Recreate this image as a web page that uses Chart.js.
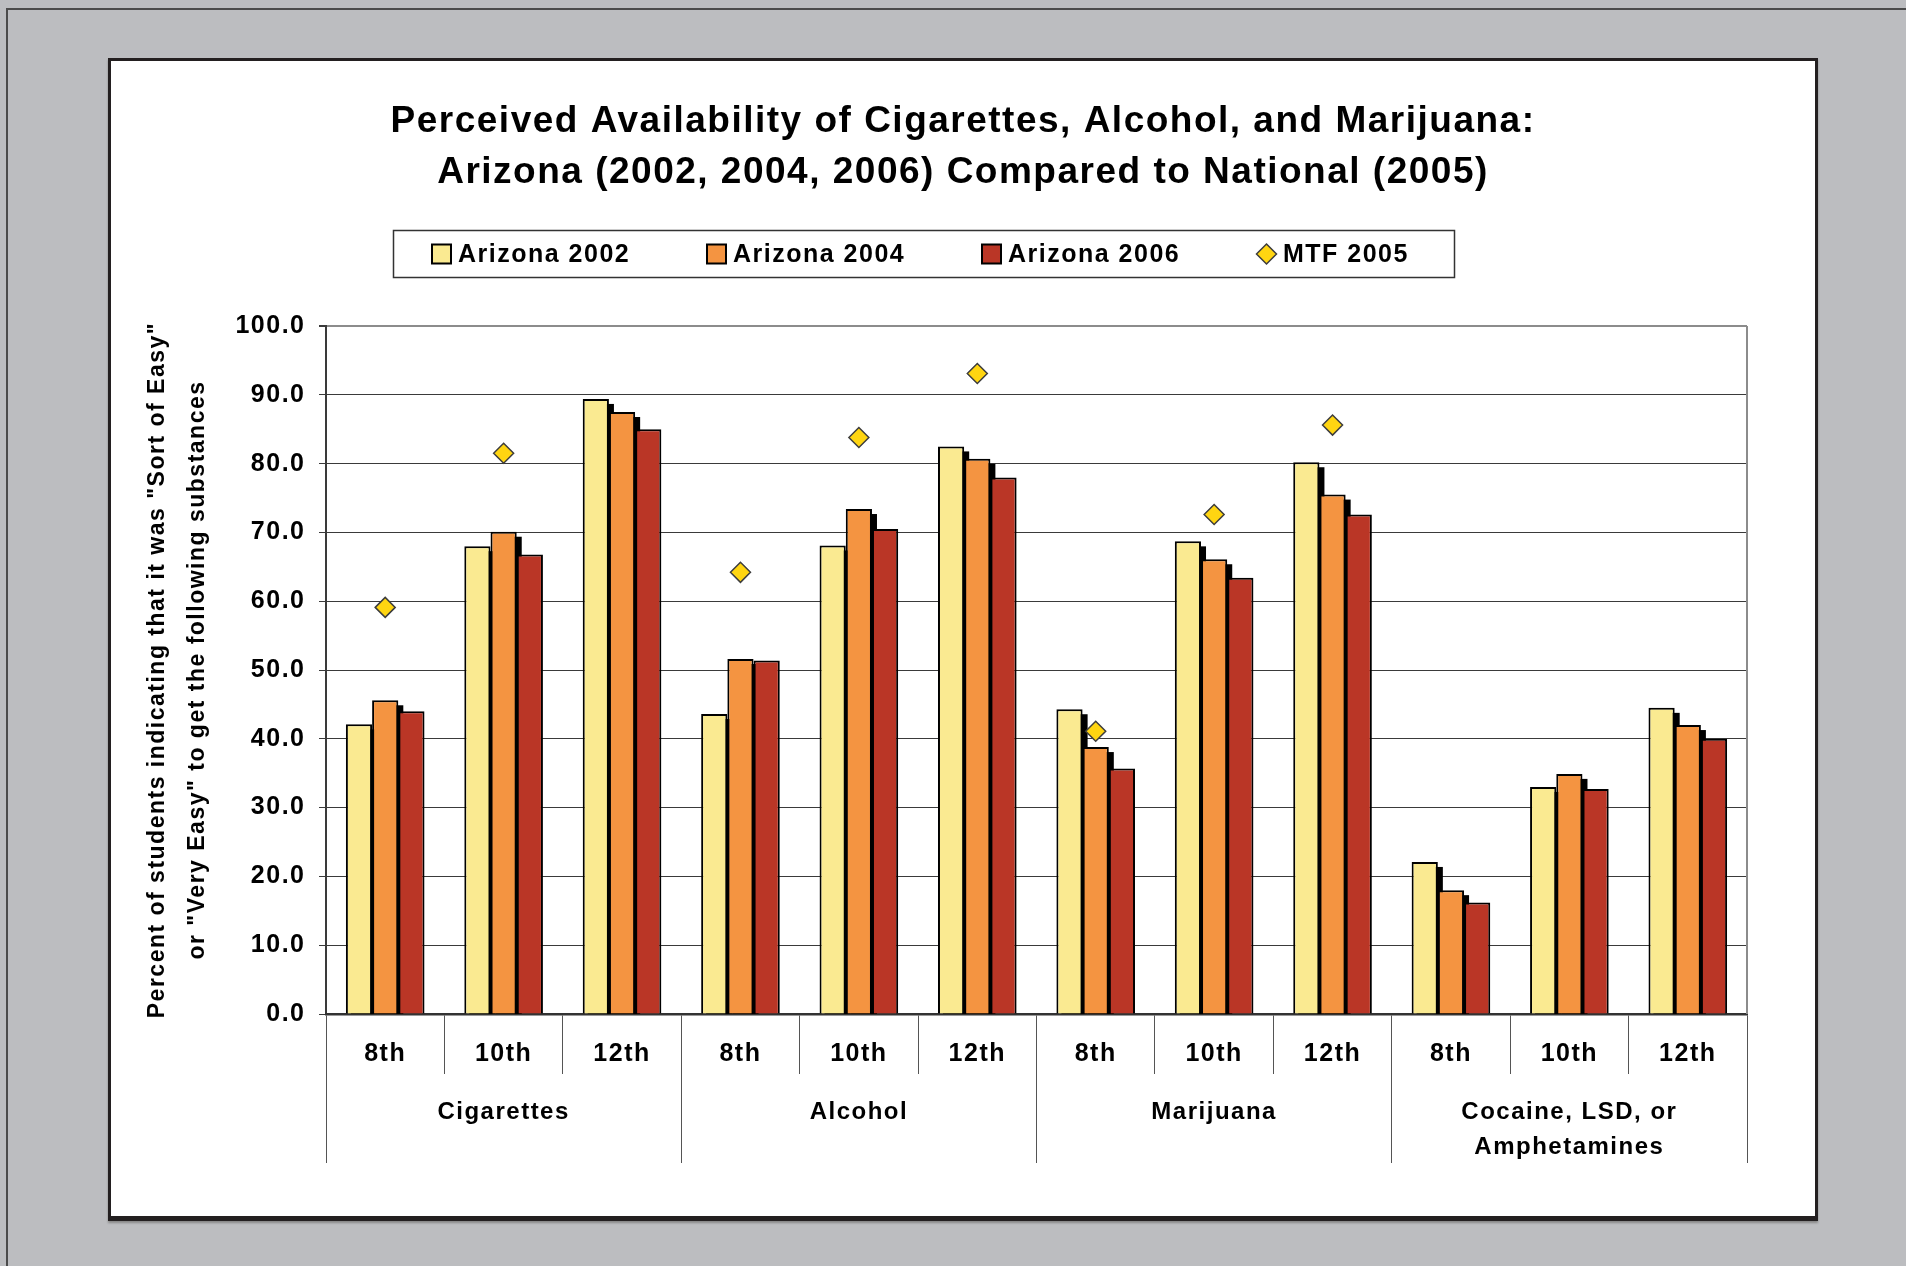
<!DOCTYPE html>
<html lang="en">
<head>
<meta charset="UTF-8">
<title>Perceived Availability</title>
<script src="https://cdn.jsdelivr.net/npm/chart.js@4.4.1/dist/chart.umd.min.js"></script>
<style>
  html, body { margin: 0; padding: 0; width: 1906px; height: 1266px; overflow: hidden; background: #bcbdc0; }
  #frame { position: absolute; left: 6px; top: 8px; width: 1930px; height: 1290px; border: 2px solid #4b4b4b; }
  #panel { position: absolute; left: 108px; top: 58px; width: 1704px; height: 1155px; background: #fff;
           border: 3px solid #231f20; border-bottom-width: 5px; box-shadow: 0 2px 2px #888; }
  #chart { position: absolute; left: 0; top: 0; }
</style>
</head>
<body>
<div id="frame"></div>
<div id="panel"></div>
<canvas id="chart" width="1906" height="1266"></canvas>

<script>
// data
var grades = ['8th', '10th', '12th'];
var substances = ['Cigarettes', 'Alcohol', 'Marijuana', ['Cocaine, LSD, or', 'Amphetamines']];
var seriesNames = ['Arizona 2002', 'Arizona 2004', 'Arizona 2006', 'MTF 2005'];
var az2002 = [42.1, 68.0, 89.4, 43.6, 68.1, 82.5, 44.3, 68.7, 80.2, 22.1, 33.0, 44.5];
var az2004 = [45.6, 70.1, 87.5, 51.6, 73.4, 80.7, 38.8, 66.1, 75.5, 18.0, 34.9, 42.0];
var az2006 = [44.0, 66.8, 85.0, 51.4, 70.5, 78.0, 35.7, 63.4, 72.6, 16.2, 32.7, 40.0];
var mtf2005 = [59.1, 81.5, null, 64.2, 83.8, 93.1, 41.1, 72.6, 85.6, null, null, null];
var yMin = 0, yMax = 100, yStep = 10;

var FONT = '"Liberation Sans", Arial, sans-serif';
var labels = [];
substances.forEach(function () { grades.forEach(function (g) { labels.push(g); }); });

// a little tracking on all text, like the original
var tracking = {
  id: 'tracking',
  beforeUpdate: function (c) { c.ctx.letterSpacing = '1.5px'; },
  beforeDraw: function (c) { c.ctx.letterSpacing = '1.5px'; }
};

// black drop shadow behind the first two bar series + grey right border of the plot
var plotExtras = {
  id: 'plotExtras',
  beforeDatasetsDraw: function (c) {
    var a = c.chartArea, ctx = c.ctx;
    ctx.save();
    ctx.beginPath();
    ctx.rect(a.left, a.top, a.right - a.left, a.bottom - a.top);
    ctx.clip();
    ctx.fillStyle = '#000';
    [0, 1].forEach(function (i) {
      c.getDatasetMeta(i).data.forEach(function (bar) {
        var p = bar.getProps(['x', 'y', 'base', 'width'], true);
        ctx.fillRect(p.x - p.width / 2 + 5, p.y + 5, p.width, p.base - p.y);
      });
    });
    ctx.restore();

    ctx.save();
    ctx.strokeStyle = '#8c8c8c';
    ctx.lineWidth = 2;
    ctx.beginPath();
    ctx.moveTo(a.right, a.top);
    ctx.lineTo(a.right, a.bottom);
    ctx.stroke();
    ctx.restore();
  }
};

// boxed legend with evenly spaced entries
var boxLegend = {
  id: 'boxLegend',
  afterDraw: function (c) {
    var ctx = c.ctx;
    ctx.save();
    ctx.letterSpacing = '1.5px';
    ctx.lineWidth = 1.5;
    ctx.strokeStyle = '#333';
    ctx.strokeRect(393.5, 230.5, 1061, 47);
    ctx.font = 'bold 25px ' + FONT;
    ctx.textBaseline = 'middle';
    c.data.datasets.forEach(function (ds, i) {
      var x = 432 + i * 275, y = 254;
      if (ds.type === 'line') {
        var cx = x + 9.5, r = 10;
        ctx.beginPath();
        ctx.moveTo(cx, y - r); ctx.lineTo(cx + r, y); ctx.lineTo(cx, y + r); ctx.lineTo(cx - r, y);
        ctx.closePath();
        ctx.fillStyle = ds.backgroundColor; ctx.fill();
        ctx.lineWidth = 1.5; ctx.strokeStyle = ds.borderColor; ctx.stroke();
      } else {
        ctx.fillStyle = ds.backgroundColor;
        ctx.fillRect(x, y - 9.5, 19, 19);
        ctx.lineWidth = 2; ctx.strokeStyle = '#000';
        ctx.strokeRect(x, y - 9.5, 19, 19);
      }
      ctx.fillStyle = '#000';
      ctx.fillText(ds.label, x + 26, y + 1);
    });
    ctx.restore();
  }
};

new Chart(document.getElementById('chart'), {
  type: 'bar',
  data: {
    labels: labels,
    datasets: [
      { label: seriesNames[0], data: az2002, backgroundColor: '#faea91', borderColor: '#000', borderWidth: 2 },
      { label: seriesNames[1], data: az2004, backgroundColor: '#f49441', borderColor: '#000', borderWidth: 2 },
      { label: seriesNames[2], data: az2006, backgroundColor: '#ba3626', borderColor: '#000', borderWidth: 2 },
      { label: seriesNames[3], data: mtf2005, type: 'line', showLine: false, pointStyle: 'rectRot',
        pointRadius: 10, pointBackgroundColor: '#ffd511', pointBorderColor: '#3d3d3d', pointBorderWidth: 1.5,
        backgroundColor: '#ffd511', borderColor: '#3d3d3d', order: -1 }
    ]
  },
  options: {
    responsive: false,
    animation: false,
    devicePixelRatio: 1,
    categoryPercentage: 0.664,
    barPercentage: 1.0,
    layout: { padding: { left: 179, right: 159, top: 0, bottom: 42 } },
    plugins: {
      legend: { display: false },
      tooltip: { enabled: false },
      title: {
        display: true,
        text: ['Perceived Availability of Cigarettes, Alcohol, and Marijuana:',
               'Arizona (2002, 2004, 2006) Compared to National (2005)'],
        color: '#000',
        font: { family: FONT, size: 37, weight: 'bold', lineHeight: 1.38 },
        padding: { top: 96, bottom: 127.9 }
      }
    },
    scales: {
      y: {
        min: yMin, max: yMax,
        ticks: { stepSize: yStep, color: '#000', padding: 13.5,
                 font: { family: FONT, size: 25, weight: 'bold' },
                 callback: function (v) { return v.toFixed(1); } },
        grid: { color: function (ctx) { return ctx.tick && ctx.tick.value === yMax ? '#8c8c8c' : '#3a3a3a'; },
                lineWidth: function (ctx) { return ctx.tick && ctx.tick.value === yMax ? 2 : 1; },
                tickColor: '#3a3a3a', tickLength: 7 },
        border: { display: true, color: '#3a3a3a', width: 2 },
        title: {
          display: true,
          text: ['Percent of students indicating that it was "Sort of Easy"',
                 'or "Very Easy" to get the following substances'],
          color: '#000',
          font: { family: FONT, size: 23, weight: 'bold', lineHeight: 1.72 },
          padding: { top: -40.8, bottom: 0 }
        },
        afterFit: function (s) { s.width = 147; }
      },
      x: {
        offset: true,
        weight: 0,
        ticks: { color: '#000', autoSkip: false, maxRotation: 0, padding: -34.5,
                 font: { family: FONT, size: 25, weight: 'bold', lineHeight: 1.2 } },
        grid: { offset: true, drawOnChartArea: false, tickLength: 60, color: '#555', lineWidth: 1 },
        border: { display: true, color: '#333', width: 2.5 },
        afterFit: function (s) { s.height = 60; }
      },
      group: {
        type: 'category',
        position: 'bottom',
        weight: 1,
        labels: substances,
        offset: true,
        ticks: { color: '#000', autoSkip: false, maxRotation: 0, padding: -67.9,
                 font: { family: FONT, size: 24, weight: 'bold', lineHeight: 1.45 } },
        grid: { offset: true, drawOnChartArea: false, tickLength: 89, color: '#555', lineWidth: 1 },
        border: { display: false },
        afterFit: function (s) { s.height = 150; }
      }
    }
  },
  plugins: [tracking, plotExtras, boxLegend]
});
</script>
</body>
</html>
